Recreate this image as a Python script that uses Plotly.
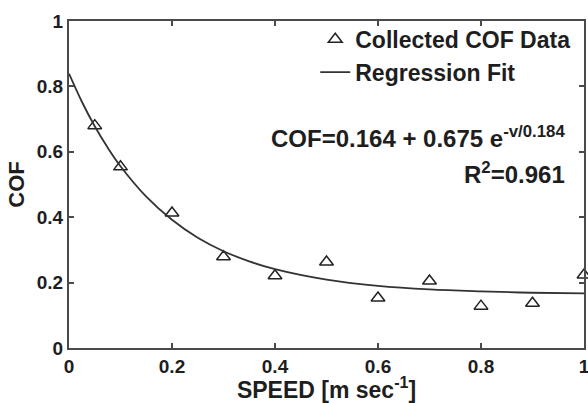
import plotly.graph_objects as go

# Collected data
speed = [0.05, 0.1, 0.2, 0.3, 0.4, 0.5, 0.6, 0.7, 0.8, 0.9, 1.0]
cof = [0.68, 0.554, 0.413, 0.279, 0.221, 0.263, 0.153, 0.205, 0.128, 0.137, 0.223]

# Regression fit curve
fit_speed = [0, 0.025, 0.05, 0.075, 0.1, 0.15, 0.2, 0.25, 0.3, 0.35, 0.4, 0.5, 0.6, 0.7, 0.8, 0.9, 1.0]
fit_cof = [0.839, 0.753, 0.678, 0.613, 0.556, 0.463, 0.392, 0.337, 0.296, 0.265, 0.241, 0.209, 0.190, 0.179, 0.173, 0.169, 0.167]

tick_vals = [0, 0.2, 0.4, 0.6, 0.8, 1]
tick_text = ["0", "0.2", "0.4", "0.6", "0.8", "1"]

TXT = "#1e1e1e"
AX = "#4a4a4a"
FONT = "Liberation Sans"

fig = go.Figure()
fig.add_trace(go.Scatter(
    x=speed, y=cof, mode="markers", name="Collected COF Data",
    cliponaxis=False,
    marker=dict(symbol="triangle-up-open", size=12, color="#222222",
                line=dict(width=1.5, color="#222222")),
))
fig.add_trace(go.Scatter(
    x=fit_speed, y=fit_cof, mode="lines", name="Regression Fit",
    line=dict(color="#333333", width=1.8, shape="spline"),
))

axis_common = dict(
    range=[0, 1], tickvals=tick_vals, ticktext=tick_text,
    ticks="inside", ticklen=5, tickcolor=AX, tickwidth=1.5,
    showline=True, linecolor=AX, linewidth=2, mirror="ticks",
    showgrid=False, zeroline=False, automargin=False,
    ticklabeloverflow="allow",
    tickfont=dict(family=FONT, size=19, color=TXT, weight="bold"),
)

fig.update_layout(
    template="none",
    width=588, height=403,
    margin=dict(l=69, r=4, t=21, b=55),
    paper_bgcolor="white", plot_bgcolor="white",
    font=dict(family=FONT, color=TXT),
    xaxis=dict(**axis_common,
               title=dict(text="SPEED [m sec<sup>-1</sup>]", standoff=4,
                          font=dict(family=FONT, size=23, color=TXT, weight="bold"))),
    yaxis=dict(**axis_common,
               title=dict(text="COF", standoff=6,
                          font=dict(family=FONT, size=22, color=TXT, weight="bold"))),
    legend=dict(x=0.983, y=1.01, xanchor="right", yanchor="top",
                bgcolor="rgba(0,0,0,0)", borderwidth=0,
                font=dict(family=FONT, size=23, color=TXT, weight="bold"),
                itemwidth=30, tracegroupgap=0),
    showlegend=True,
)

fig.add_annotation(x=0.967, y=0.645, xref="paper", yref="paper",
                   xanchor="right", yanchor="middle", showarrow=False,
                   text="COF=0.164 + 0.675 e<sup>-v/0.184</sup>",
                   font=dict(family=FONT, size=24, color=TXT, weight="bold"))
fig.add_annotation(x=0.967, y=0.535, xref="paper", yref="paper",
                   xanchor="right", yanchor="middle", showarrow=False,
                   text="R<sup>2</sup>=0.961",
                   font=dict(family=FONT, size=24, color=TXT, weight="bold"))

fig.write_html("out.html", config={"displayModeBar": False},
               post_script="document.body.style.margin='0';")
